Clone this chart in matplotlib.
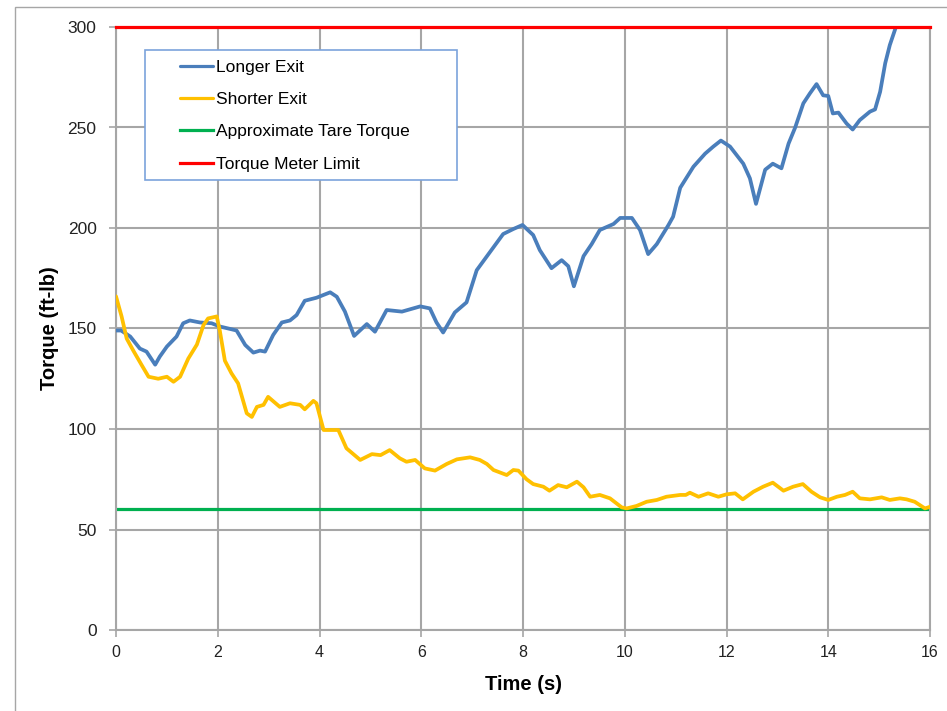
import matplotlib
matplotlib.use("Agg")
import matplotlib.pyplot as plt
from matplotlib.patches import Rectangle

plt.rcParams['font.family'] = ['Liberation Sans', 'DejaVu Sans']

t_long = [0.0, 0.1, 0.28, 0.47, 0.6, 0.77, 0.86, 1.0, 1.19, 1.32, 1.45, 1.65, 1.88, 2.04, 2.24, 2.37,
          2.54, 2.7, 2.83, 2.93, 3.09, 3.26, 3.42, 3.55, 3.71, 3.94, 4.21, 4.34, 4.5, 4.68, 4.93, 5.09,
          5.32, 5.62, 5.98, 6.17, 6.3, 6.43, 6.66, 6.89, 7.09, 7.35, 7.61, 7.81, 7.99, 8.2, 8.33, 8.56,
          8.76, 8.89, 9.0, 9.19, 9.35, 9.51, 9.78, 9.91, 10.14, 10.3, 10.46, 10.63, 10.86, 10.95, 11.09,
          11.35, 11.58, 11.74, 11.89, 12.07, 12.33, 12.46, 12.58, 12.76, 12.91, 13.08, 13.22, 13.35,
          13.51, 13.64, 13.77, 13.9, 14.0, 14.09, 14.2, 14.36, 14.48, 14.62, 14.82, 14.92, 15.02, 15.12,
          15.21, 15.33, 15.36]
torque_long = [149, 149, 146, 140, 138.5, 132, 136, 141, 146, 152.6, 154, 153, 152.6, 151, 149.8, 149,
               141.8, 138, 139, 138.5, 146.8, 153, 154, 156.7, 163.8, 165.3, 168, 165.8, 158.4, 146.3,
               152.2, 148.4, 159.2, 158.4, 161, 160, 153, 148, 158, 163, 179, 188, 197, 199.5, 201.5,
               196.5, 189, 180, 184, 181, 171, 186, 192, 199, 202, 205, 205, 199, 187, 192, 201.5, 205.6,
               220, 230.5, 237, 240.5, 243.5, 240.5, 232, 224.7, 212, 229, 232, 229.7, 242, 250, 262,
               267, 271.6, 266, 265.7, 257, 257.4, 252, 249, 253.7, 257.9, 259, 267.8, 282, 291, 300, 302]

t_short = [0.0, 0.11, 0.21, 0.34, 0.5, 0.64, 0.83, 1.0, 1.13, 1.26, 1.42, 1.59, 1.72, 1.81, 1.98, 2.04,
           2.14, 2.27, 2.4, 2.57, 2.67, 2.77, 2.9, 2.99, 3.22, 3.42, 3.62, 3.71, 3.88, 3.94, 4.08, 4.21,
           4.37, 4.53, 4.8, 5.03, 5.2, 5.38, 5.58, 5.71, 5.88, 6.07, 6.27, 6.5, 6.7, 6.96, 7.15, 7.29,
           7.42, 7.68, 7.81, 7.91, 8.07, 8.2, 8.4, 8.52, 8.69, 8.86, 9.06, 9.19, 9.32, 9.51, 9.71, 9.94,
           10.04, 10.23, 10.43, 10.63, 10.82, 11.09, 11.2, 11.28, 11.45, 11.64, 11.84, 12.0, 12.17, 12.32,
           12.53, 12.72, 12.91, 13.12, 13.31, 13.5, 13.67, 13.84, 14.0, 14.17, 14.33, 14.48, 14.62, 14.82,
           15.05, 15.21, 15.41, 15.54, 15.7, 15.9, 16.0]
torque_short = [166, 156, 145, 139, 132, 126, 125, 126, 123.5, 126, 135, 142, 151.7, 155, 156, 149,
                134, 127.7, 122.7, 107.8, 106, 111, 112, 116, 111, 112.8, 112, 109.8, 114, 112.8, 99.5,
                99.5, 99.5, 90.4, 84.6, 87.5, 87, 89.5, 85.4, 83.7, 84.6, 80.4, 79.3, 82.6, 84.9, 85.9,
                84.6, 82.6, 79.6, 77.1, 79.6, 79.3, 75, 72.6, 71.3, 69.3, 72.1, 71, 73.8, 71, 66.3, 67.2,
                65.5, 61, 60.5, 61.7, 63.8, 64.7, 66.3, 67.2, 67.2, 68.3, 66.3, 68, 66.3, 67.5, 68, 65,
                68.8, 71.3, 73.3, 69.3, 71.3, 72.6, 68.8, 66, 64.7, 66.3, 67.2, 68.8, 65.5, 65, 66, 64.7,
                65.5, 65, 63.8, 60.5, 61.3]

tare_torque = 60
meter_limit = 300
t_range = [0, 16]

labels = ["Longer Exit", "Shorter Exit", "Approximate Tare Torque", "Torque Meter Limit"]
x_ticks = [0, 2, 4, 6, 8, 10, 12, 14, 16]
y_ticks = [0, 50, 100, 150, 200, 250, 300]

fig = plt.figure(figsize=(9.47, 7.11), dpi=100)
ax = fig.add_axes([116/947, 81/711, 814/947, 603/711])

grid_c = '#A6A6A6'
ax.set_xlim(0, 16)
ax.set_ylim(0, 300)
ax.set_xticks(x_ticks)
ax.set_yticks(y_ticks)
ax.grid(True, color=grid_c, linewidth=1.5, zorder=0)
ax.set_axisbelow(True)
for s in ['left', 'bottom', 'right']:
    ax.spines[s].set_color(grid_c)
    ax.spines[s].set_linewidth(1.5)
ax.spines['top'].set_visible(False)
ax.tick_params(axis='both', color=grid_c, width=1.2, length=5, direction='out')
ax.tick_params(axis='y', labelsize=12.5, pad=9, labelcolor='#222222')
ax.tick_params(axis='x', labelsize=11.5, pad=6, labelcolor='#222222')

ln1, = ax.plot(t_long, torque_long, color='#4A7EBB', lw=2.7, solid_joinstyle='round',
               solid_capstyle='round', zorder=3)
ln2, = ax.plot(t_short, torque_short, color='#FFC000', lw=2.7, solid_joinstyle='round',
               solid_capstyle='round', zorder=3)
ln3, = ax.plot(t_range, [tare_torque, tare_torque], color='#00B050', lw=2.3, zorder=2)
ln4, = ax.plot(t_range, [meter_limit, meter_limit], color='#FF0000', lw=2.3, zorder=4, clip_on=False)

ax.set_xlabel("Time (s)", fontsize=14.5, fontweight='bold')
ax.set_ylabel("Torque (ft-lb)", fontsize=14.5, fontweight='bold')
ax.xaxis.set_label_coords(0.5, -0.074)
ax.yaxis.set_label_coords(-0.07, 0.5)

# legend box
ax.add_patch(Rectangle((29/814, (630-180)/603), 312/814, 130/603, transform=ax.transAxes,
                       facecolor='white', edgecolor='#7BA3DB', lw=1.2, zorder=5))
leg = ax.legend([ln1, ln2, ln3, ln4], labels, loc='upper left',
                bbox_to_anchor=(64/814, (630-60)/603), frameon=False, fontsize=12.5,
                handlelength=1.9, handletextpad=0.15, labelspacing=0.98,
                borderpad=0, borderaxespad=0)
leg.set_zorder(6)
for h in leg.legend_handles:
    h.set_linewidth(2.3)

# outer chart border
fig.add_artist(Rectangle((15/947, -0.1), 1.2, (711-7)/711 + 0.1, transform=fig.transFigure,
                         facecolor='none', edgecolor='#A6A6A6', lw=1.0))

fig.savefig("out.png", dpi=100)
